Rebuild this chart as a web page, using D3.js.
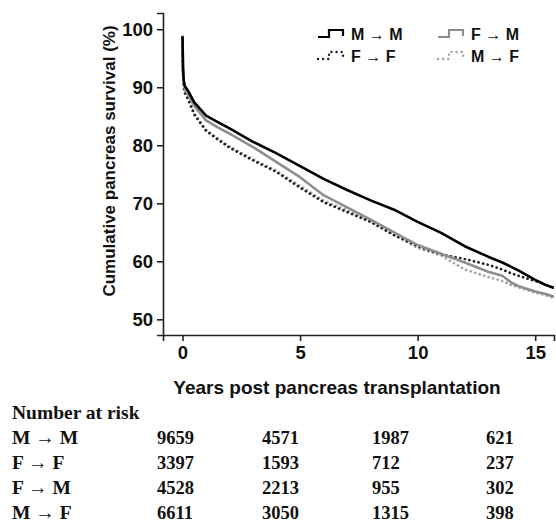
<!DOCTYPE html>
<html><head><meta charset="utf-8">
<script src="https://cdn.jsdelivr.net/npm/d3@7"></script>
<style>body{margin:0;background:#fff}svg{display:block}</style>
</head><body>
<svg id="c" width="556" height="523"></svg>
<script>
// ---- data ----
const times = [0, 0.02, 0.05, 0.1, 0.25, 0.5, 1, 1.5, 2, 3, 4, 5, 6, 7, 8, 9, 10, 11, 12, 13, 13.6, 14, 14.3, 15, 15.4, 15.8];
const survMM = [98.8, 93.5, 91.2, 90.2, 89.3, 87.4, 85.1, 84.0, 82.9, 80.6, 78.6, 76.4, 74.2, 72.3, 70.5, 68.9, 66.8, 64.9, 62.6, 60.8, 59.8, 59.0, 58.4, 56.8, 56.0, 55.4];
const survFF = [98.6, 92.5, 90.0, 89.0, 87.8, 85.3, 82.5, 81.0, 79.6, 77.4, 75.4, 72.7, 70.2, 68.5, 66.8, 64.5, 62.6, 61.2, 60.4, 59.4, 58.6, 57.9, 57.5, 56.6, 56.1, null];
const survFM = [98.9, 93.0, 91.0, 89.6, 88.6, 86.8, 84.3, 83.1, 82.0, 79.7, 77.1, 74.5, 71.4, 69.3, 67.2, 65.0, 62.8, 61.3, 59.8, 58.2, 57.5, 56.3, 55.7, 54.8, 54.4, 53.9];
const survMF = [98.6, 92.6, 90.2, 89.2, 88.0, 85.5, 82.7, 81.2, 79.8, 77.6, 75.6, 73.0, 70.5, 68.8, 66.9, 64.6, 62.3, 61.0, 58.6, 57.3, 56.6, 55.9, 55.5, 54.6, 54.2, 53.7];
const groups = ["M \u2192 M", "F \u2192 F", "F \u2192 M", "M \u2192 F"];
const xTicks = [0, 5, 10, 15];
const yTicks = [50, 60, 70, 80, 90, 100];
const riskTable = [
  [9659, 4571, 1987, 621],
  [3397, 1593, 712, 237],
  [4528, 2213, 955, 302],
  [6611, 3050, 1315, 398]
];

const svg = d3.select("#c");
const x = d3.scaleLinear().domain([-0.83, 15.8]).range([163, 554]);
const y = d3.scaleLinear().domain([47.3, 102.8]).range([335, 13]);

const sans = "'Liberation Sans', Arial, sans-serif";
const serif = "'Liberation Serif', 'Times New Roman', serif";

svg.append("clipPath").attr("id", "clip").append("rect")
  .attr("x", 163).attr("y", 5).attr("width", 391).attr("height", 330);

// axes
const xAxis = svg.append("g").attr("transform", "translate(0,335)")
  .call(d3.axisBottom(x).tickValues(xTicks).tickSizeOuter(0).tickSize(6).tickPadding(5));
const yAxis = svg.append("g").attr("transform", "translate(163,0)")
  .call(d3.axisLeft(y).tickValues(yTicks).tickSizeOuter(0).tickSize(6).tickPadding(4));
[xAxis, yAxis].forEach(g => {
  g.select(".domain").attr("stroke", "#222").attr("stroke-width", 1.6);
  g.selectAll(".tick line").attr("stroke", "#222").attr("stroke-width", 1.6);
  g.selectAll(".tick text").attr("font-family", sans).attr("font-weight", "bold")
    .attr("font-size", 18.5).attr("fill", "#111");
});

// series
const series = [
  {v: survMF, color: "#a6a6a6", dash: "0.1,4.6", w: 2.7},
  {v: survFF, color: "#222222", dash: "0.1,4.6", w: 2.7},
  {v: survFM, color: "#8e8e8e", dash: null, w: 2.6},
  {v: survMM, color: "#000000", dash: null, w: 2.6}
];
const line = d3.line().defined(d => d != null)
  .x((d, i) => x(times[i])).y(d => y(d)).curve(d3.curveLinear);
const plot = svg.append("g").attr("clip-path", "url(#clip)");
series.forEach(s => {
  plot.append("path").datum(s.v).attr("d", line)
    .attr("fill", "none").attr("stroke", s.color).attr("stroke-width", s.w)
    .attr("stroke-dasharray", s.dash).attr("stroke-linecap", s.dash ? "round" : "butt")
    .attr("stroke-linejoin", "round");
});

// legend
const legItems = [
  {label: groups[0], color: "#000", dash: null, lx: 318, ly: 40},
  {label: groups[2], color: "#8e8e8e", dash: null, lx: 438, ly: 40},
  {label: groups[1], color: "#222", dash: "0.1,5", lx: 318, ly: 62},
  {label: groups[3], color: "#a6a6a6", dash: "0.1,5", lx: 438, ly: 62}
];
legItems.forEach(it => {
  const yb = it.ly - 3, yt = it.ly - 10;
  const p = `M${it.lx},${yb} H${it.lx + 11} V${yt} H${it.lx + 25} V${yb - 1}`;
  svg.append("path").attr("d", p).attr("fill", "none").attr("stroke", it.color)
    .attr("stroke-width", it.dash ? 2.4 : 2.2).attr("stroke-dasharray", it.dash)
    .attr("stroke-linecap", it.dash ? "round" : "butt");
  svg.append("text").attr("x", it.lx + 33).attr("y", it.ly)
    .attr("font-family", sans).attr("font-weight", "bold").attr("font-size", 16)
    .attr("fill", "#111").text(it.label);
});

// axis titles
svg.append("text").attr("transform", "translate(115,161) rotate(-90)")
  .attr("text-anchor", "middle").attr("font-family", sans).attr("font-weight", "bold")
  .attr("font-size", 17).attr("fill", "#111").text("Cumulative pancreas survival (%)");
svg.append("text").attr("x", 337).attr("y", 394)
  .attr("text-anchor", "middle").attr("font-family", sans).attr("font-weight", "bold")
  .attr("font-size", 19).attr("fill", "#111").text("Years post pancreas transplantation");

// number at risk table
svg.append("text").attr("x", 12).attr("y", 419)
  .attr("font-family", serif).attr("font-weight", "bold").attr("font-size", 19.5)
  .attr("fill", "#111").text("Number at risk");
const colX = [157, 262, 372, 486];
const rowY = [444, 469, 494, 519];
riskTable.forEach((row, r) => {
  svg.append("text").attr("x", 12).attr("y", rowY[r])
    .attr("font-family", serif).attr("font-weight", "bold").attr("font-size", 19.5)
    .attr("fill", "#111").text(groups[r]);
  row.forEach((v, c) => {
    svg.append("text").attr("x", colX[c]).attr("y", rowY[r])
      .attr("font-family", serif).attr("font-weight", "bold").attr("font-size", 18.5)
      .attr("fill", "#111").text(v);
  });
});
</script>
</body></html>
